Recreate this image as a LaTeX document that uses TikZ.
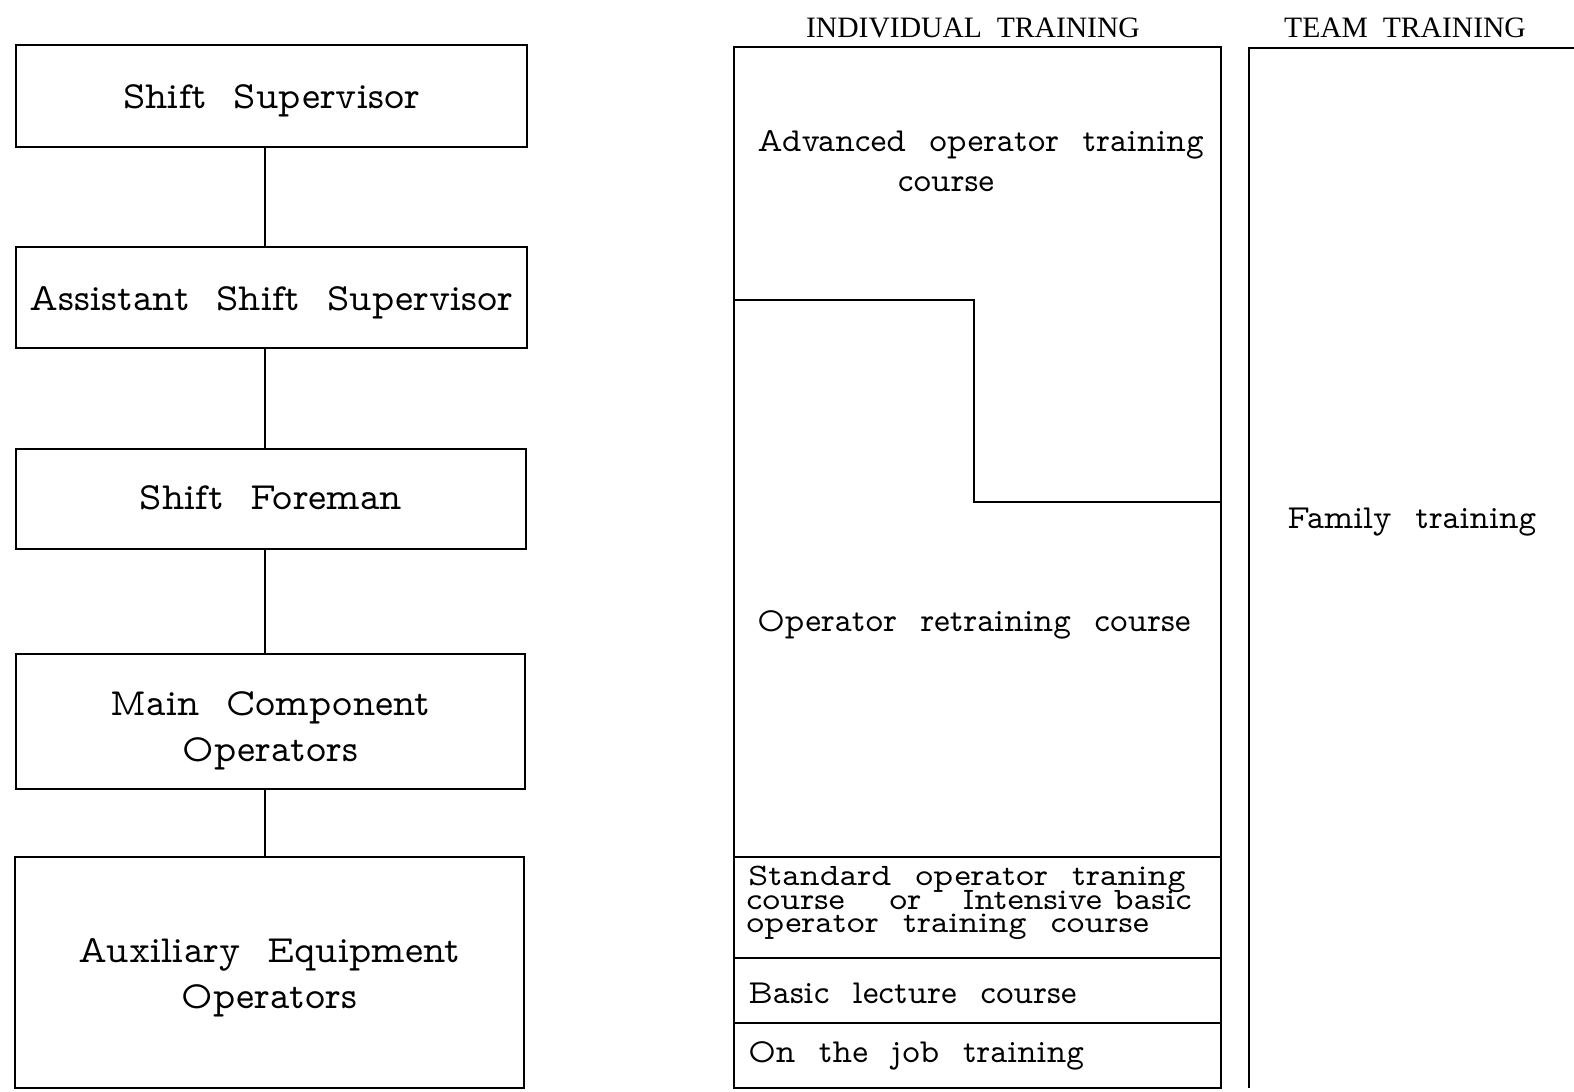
\documentclass[tikz,border=0pt]{standalone}
\usepackage{fontspec}
\usepackage{graphicx}
\newfontfamily\hdrfont{Liberation Serif}
\newcommand\twfont{\fontfamily{lmvtt}\selectfont}
\newcommand\wx[1]{\scalebox{1.1}[1]{#1}}
\tikzset{
  lbox/.style={draw, line width=1.2pt, inner sep=0pt, align=center, text depth=0pt,
    font=\twfont\fontsize{19.2pt}{23pt}\selectfont},
  rtext/.style={inner sep=0pt, anchor=base west,
    font=\twfont\fontsize{16.8pt}{19pt}\selectfont},
  stext/.style={inner sep=0pt, anchor=base west,
    font=\twfont\fontsize{15.6pt}{12pt}\selectfont},
  hdr/.style={inner sep=0pt, anchor=base,
    font=\hdrfont\fontsize{14.8pt}{18pt}\selectfont},
  panel/.style={line width=1.2pt}
}
\begin{document}
\begin{tikzpicture}[x=0.5pt,y=-0.5pt]
\useasboundingbox (0,0) rectangle (1574,1092);
% left hierarchy
\node[lbox, minimum width=255.5pt, minimum height=51pt, text height=12pt] (ss) at (271.5,96) {Shift\ \ Supervisor};
\node[lbox, minimum width=255.5pt, minimum height=50.5pt, text height=12.5pt] (ass) at (271.5,297.5) {Assistant\ \ Shift\ \ Supervisor};
\node[lbox, minimum width=255pt, minimum height=50pt, text height=10pt] (sf) at (271,499) {Shift\ \ Foreman};
\node[lbox, minimum width=254.5pt, minimum height=67.5pt, text height=39.5pt] (mc) at (270.5,721.5) {Main\ \ Component\\Operators};
\node[lbox, minimum width=254.5pt, minimum height=115.5pt, text height=35.5pt] (aux) at (269.5,972.5) {Auxiliary\ \ Equipment\\Operators};
\coordinate (cx) at (265,0);
\draw[panel] (ss.south -| cx) -- (ass.north -| cx);
\draw[panel] (ass.south -| cx) -- (sf.north -| cx);
\draw[panel] (sf.south -| cx) -- (mc.north -| cx);
\draw[panel] (mc.south -| cx) -- (aux.north -| cx);
% headers
\node[hdr] (hind) at (973,37) {INDIVIDUAL\ \ TRAINING};
\node[hdr] (hteam) at (1405,37) {TEAM\ \ TRAINING};
% individual training panel
\draw[panel] (734,47) rectangle (1221,1088);
\draw[panel] (734,300) -- (974,300) -- (974,502) -- (1221,502);
\draw[panel] (734,857) -- (1221,857);
\draw[panel] (734,958) -- (1221,958);
\draw[panel] (734,1023) -- (1221,1023);
% team training panel
\draw[panel] (1249,1088) -- (1249,48) -- (1574,48);
% texts
\node[rtext] (adv) at (757,151) {Advanced\ \ operator\ \ training};
\node[rtext, anchor=base] (advb) at (946,191) {course};
\node[rtext] (retr) at (757,631) {Operator\ \ retraining\ \ course};
\node[stext] (std1) at (748,885) {\wx{Standard\ \ operator\ \ traning}};
\node[stext] (std2) at (746,909) {\wx{course\hspace{1.3em}or\hspace{1.2em}Intensive basic}};
\node[stext] (std3) at (746,932) {\wx{operator\ \ training\ \ course}};
\node[rtext] (basic) at (748,1003) {Basic\ \ lecture\ \ course};
\node[rtext] (job) at (748,1062) {On\ \ the\ \ job\ \ training};
\node[rtext] (fam) at (1287,528) {Family\ \ training};
\end{tikzpicture}
\end{document}
